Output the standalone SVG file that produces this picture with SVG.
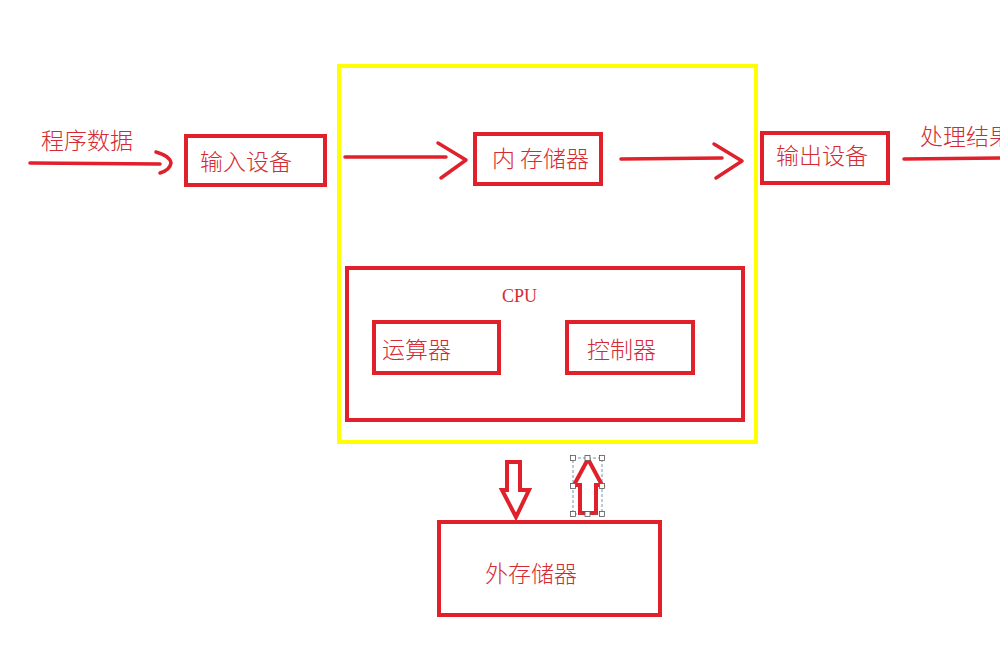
<svg xmlns="http://www.w3.org/2000/svg" width="1000" height="668" viewBox="0 0 1000 668">
<style>
.box{fill:none;stroke:#e0202a;stroke-width:4}
.t{font-family:"Noto Sans CJK SC","Liberation Sans",sans-serif;font-size:23px;font-weight:300;fill:#d42a33}
.ln{fill:none;stroke:#e0202a;stroke-width:3.5;stroke-linecap:round;stroke-linejoin:round}
.h{fill:#fff;stroke:#555;stroke-width:0.8}
</style>
<rect width="1000" height="668" fill="#fff"/>
<g id="frame"><rect x="339" y="66" width="417" height="376" fill="none" stroke="#ffff00" stroke-width="4"/></g>
<g id="input"><rect class="box" x="186" y="136" width="139" height="49"/><text class="t" x="200" y="170">输入设备</text></g>
<g id="memory"><rect class="box" x="475" y="134" width="126" height="50"/><text class="t" x="492" y="167">内 存储器</text></g>
<g id="output"><rect class="box" x="762" y="133" width="126" height="50"/><text class="t" x="776" y="164">输出设备</text></g>
<g id="cpu"><rect class="box" x="347" y="268" width="396" height="152"/><text x="502" y="302" font-family="Liberation Serif,serif" font-size="18" fill="#d42a33">CPU</text></g>
<g id="alu"><rect class="box" x="374" y="322" width="125" height="51"/><text class="t" x="382" y="358">运算器</text></g>
<g id="ctrl"><rect class="box" x="567" y="322" width="126" height="51"/><text class="t" x="587" y="358">控制器</text></g>
<g id="ext"><rect class="box" x="439" y="522" width="221" height="93"/><text class="t" x="485" y="582">外存储器</text></g>
<text class="t" x="41" y="149">程序数据</text>
<text class="t" x="920" y="145">处理结果</text>
<g id="connectors">
<path class="ln" d="M30 163 L160 164"/>
<path class="ln" d="M156 152 Q170 156 171 163 Q170 170 160 173"/>
<path class="ln" d="M345 157 L446 157"/>
<path class="ln" d="M438 143 L466 160 L441 178"/>
<path class="ln" d="M621 159 L722 158"/>
<path class="ln" d="M714 144 L742 161 L716 178"/>
<path class="ln" d="M904 159 L1000 158"/>
<path d="M507 462 L520 462 L520 490 L529 490 L516 517 L502 490 L507 490 Z" fill="none" stroke="#e0202a" stroke-width="4" stroke-linejoin="miter"/>
<path d="M588 459 L602 485 L596 485 L596 513 L580 513 L580 485 L574 485 Z" fill="none" stroke="#e0202a" stroke-width="4" stroke-linejoin="miter"/>
</g>
<g id="selection">
<rect x="573" y="458" width="29" height="56" fill="none" stroke="#4a7fa0" stroke-width="0.8" stroke-dasharray="3,2"/>
<rect class="h" x="570.5" y="455.5" width="5" height="5"/><rect class="h" x="585" y="455.5" width="5" height="5"/><rect class="h" x="599.5" y="455.5" width="5" height="5"/>
<rect class="h" x="570.5" y="483.5" width="5" height="5"/><rect class="h" x="599.5" y="483.5" width="5" height="5"/>
<rect class="h" x="570.5" y="511.5" width="5" height="5"/><rect class="h" x="585" y="511.5" width="5" height="5"/><rect class="h" x="599.5" y="511.5" width="5" height="5"/>
</g>
</svg>
